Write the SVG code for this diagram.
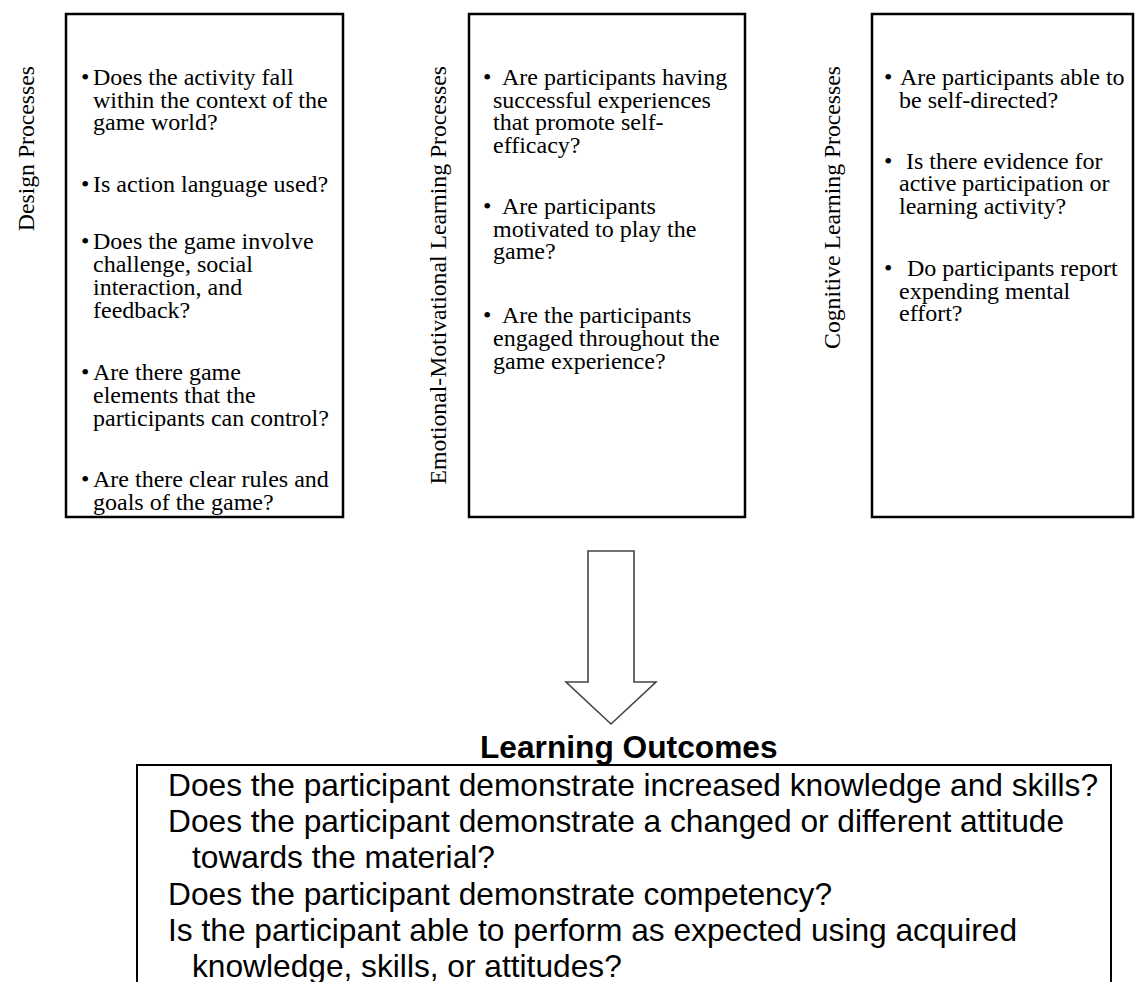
<svg xmlns="http://www.w3.org/2000/svg" width="1136" height="982" viewBox="0 0 1136 982">
<style>
.box{fill:none;stroke:#000;stroke-width:2.5}
.ser{font-family:"Liberation Serif","Times New Roman",serif;font-size:24px;fill:#000}
.lab{font-family:"Liberation Serif","Times New Roman",serif;font-size:23.7px;fill:#000;text-anchor:end}
.san{font-family:"Liberation Sans",Arial,sans-serif;font-size:31.7px;fill:#000}
.ttl{font-family:"Liberation Sans",Arial,sans-serif;font-size:31.7px;font-weight:bold;fill:#000}
.arrow{fill:#fff;stroke:#444;stroke-width:1.6;stroke-linejoin:miter}
.ob{fill:none;stroke:#000;stroke-width:2}
</style>
<rect width="1136" height="982" fill="#fff"/>

<g id="node-design">
<text class="lab" transform="translate(34,66) rotate(-90)">Design Processes</text>
<text class="ser"><tspan x="81" y="85">•</tspan><tspan x="93" y="85">Does the activity fall</tspan><tspan x="93" y="107.6">within the context of the</tspan><tspan x="93" y="130.2">game world?</tspan></text>
<text class="ser"><tspan x="81" y="191.5">•</tspan><tspan x="93" y="191.5">Is action language used?</tspan></text>
<text class="ser"><tspan x="81" y="249">•</tspan><tspan x="93" y="249">Does the game involve</tspan><tspan x="93" y="272">challenge, social</tspan><tspan x="93" y="295">interaction, and</tspan><tspan x="93" y="318">feedback?</tspan></text>
<text class="ser"><tspan x="81" y="380">•</tspan><tspan x="93" y="380">Are there game</tspan><tspan x="93" y="403">elements that the</tspan><tspan x="93" y="426">participants can control?</tspan></text>
<text class="ser"><tspan x="81" y="487">•</tspan><tspan x="93" y="487">Are there clear rules and</tspan><tspan x="93" y="510">goals of the game?</tspan></text>
<rect class="box" x="66" y="14" width="277" height="503"/>
</g>

<g id="node-emotional">
<rect class="box" x="469" y="14" width="276" height="503"/>
<text class="lab" transform="translate(446,66) rotate(-90)">Emotional-Motivational Learning Processes</text>
<text class="ser"><tspan x="483" y="85">•</tspan><tspan x="502" y="85">Are participants having</tspan><tspan x="493" y="107.5">successful experiences</tspan><tspan x="493" y="130">that promote self-</tspan><tspan x="493" y="152.5">efficacy?</tspan></text>
<text class="ser"><tspan x="483" y="214">•</tspan><tspan x="502" y="214">Are participants</tspan><tspan x="493" y="236.5">motivated to play the</tspan><tspan x="493" y="259">game?</tspan></text>
<text class="ser"><tspan x="483" y="322.5">•</tspan><tspan x="502" y="322.5">Are the participants</tspan><tspan x="493" y="345.5">engaged throughout the</tspan><tspan x="493" y="368.5">game experience?</tspan></text>
</g>

<g id="node-cognitive">
<rect class="box" x="872" y="14" width="261" height="503"/>
<text class="lab" transform="translate(840,66) rotate(-90)">Cognitive Learning Processes</text>
<text class="ser"><tspan x="884" y="85">•</tspan><tspan x="900" y="85">Are participants able to</tspan><tspan x="899" y="107.5">be self-directed?</tspan></text>
<text class="ser"><tspan x="884" y="168.5">•</tspan><tspan x="906" y="168.5">Is there evidence for</tspan><tspan x="899" y="191">active participation or</tspan><tspan x="899" y="213.5">learning activity?</tspan></text>
<text class="ser"><tspan x="884" y="276">•</tspan><tspan x="907" y="276">Do participants report</tspan><tspan x="899" y="298.5">expending mental</tspan><tspan x="899" y="321">effort?</tspan></text>
</g>

<g id="connectors">
<polygon class="arrow" points="588,551 634,551 634,682 656,682 611,724 566,682 588,682"/>
</g>

<g id="node-outcomes">
<text class="ttl" x="480" y="757.5">Learning Outcomes</text>
<path class="ob" d="M137,1000 V765 H1111 V1000"/>
<text class="san"><tspan x="168" y="796">Does the participant demonstrate increased knowledge and skills?</tspan><tspan x="168" y="832">Does the participant demonstrate a changed or different attitude</tspan><tspan x="192" y="868">towards the material?</tspan><tspan x="168" y="905">Does the participant demonstrate competency?</tspan><tspan x="168" y="941">Is the participant able to perform as expected using acquired</tspan><tspan x="192" y="977">knowledge, skills, or attitudes?</tspan></text>
</g>
</svg>
